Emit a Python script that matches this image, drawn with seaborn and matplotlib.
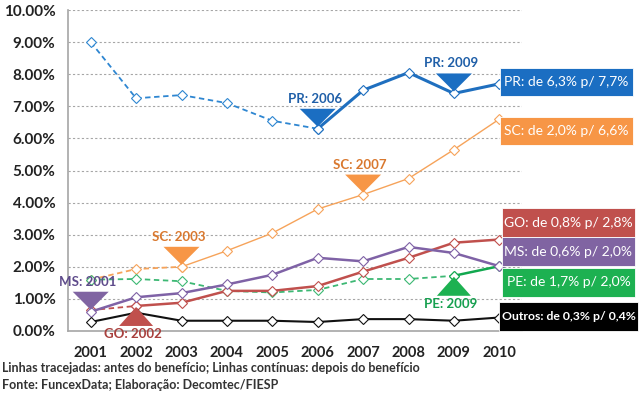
import numpy as np
import pandas as pd
import matplotlib.pyplot as plt
import matplotlib.transforms as mtransforms
from matplotlib.patches import Polygon, Rectangle
from matplotlib.ticker import FuncFormatter
import seaborn as sns

# dados (% de participação)
anos = [2001, 2002, 2003, 2004, 2005, 2006, 2007, 2008, 2009, 2010]
pr = [9.0, 7.25, 7.35, 7.1, 6.55, 6.3, 7.5, 8.05, 7.4, 7.7]
sc = [1.6, 1.93, 2.0, 2.5, 3.05, 3.8, 4.25, 4.75, 5.65, 6.6]
go = [0.65, 0.78, 0.88, 1.25, 1.25, 1.4, 1.85, 2.28, 2.75, 2.85]
ms = [0.6, 1.05, 1.18, 1.45, 1.75, 2.28, 2.17, 2.62, 2.43, 2.02]
pe = [1.6, 1.62, 1.55, 1.25, 1.2, 1.28, 1.62, 1.62, 1.72, 2.02]
outros = [0.28, 0.57, 0.32, 0.32, 0.32, 0.28, 0.37, 0.37, 0.32, 0.42]

# ano de início do benefício por estado
inicio = {"PR": 2006, "SC": 2003, "GO": 2002, "MS": 2001, "PE": 2009, "Outros": 2001}

rotulos = {
    "PR": "PR: de 6,3% p/ 7,7%",
    "SC": "SC: de 2,0% p/ 6,6%",
    "GO": "GO: de 0,8% p/ 2,8%",
    "MS": "MS: de 0,6% p/ 2,0%",
    "PE": "PE: de 1,7% p/ 2,0%",
    "Outros": "Outros: de 0,3% p/ 0,4%",
}

# marcações (estado, ano, texto, seta para baixo?)
marcas = [
    ("PR", 2006, "PR: 2006", True),
    ("PR", 2009, "PR: 2009", True),
    ("SC", 2003, "SC: 2003", True),
    ("SC", 2007, "SC: 2007", True),
    ("MS", 2001, "MS: 2001", True),
    ("GO", 2002, "GO: 2002", False),
    ("PE", 2009, "PE: 2009", False),
]

series = {"PR": pr, "SC": sc, "GO": go, "MS": ms, "PE": pe, "Outros": outros}

cores = {"PR": "#1F6FBF", "SC": "#F6A35A", "GO": "#C0504D",
         "MS": "#7F62A6", "PE": "#12A84F", "Outros": "#111111"}
cores_tracejado = {"PR": "#2E86D1", "SC": "#F6A35A", "GO": "#C0504D",
                   "MS": "#7F62A6", "PE": "#3DB874", "Outros": "#111111"}
cores_caixa = {"PR": "#1B6EC2", "SC": "#F79646", "GO": "#C0504D",
               "MS": "#8064A2", "PE": "#1DB151", "Outros": "#000000"}
cores_texto = {"PR": "#1F5FA8", "SC": "#D9782E", "GO": "#A8403D",
               "MS": "#5E4B8B", "PE": "#17A050"}
larguras = {"PR": 2.2, "SC": 1.0, "GO": 1.8, "MS": 1.8, "PE": 1.8, "Outros": 1.5}

# caixas à direita (px: x0, y_topo, x1, y_base)
caixas = {
    "PR": (500, 68, 633, 96),
    "SC": (500, 117, 633, 145),
    "GO": (502, 208, 635, 237),
    "MS": (502, 237, 635, 266),
    "PE": (502, 268, 635, 297),
    "Outros": (499, 302, 638, 331),
}

W, H = 640, 399

sns.set_style("white")
plt.rcParams["font.family"] = ["Lato", "DejaVu Sans"]

fig = plt.figure(figsize=(W / 100, H / 100), dpi=100)
ax = fig.add_axes([68 / W, (H - 331) / H, (522 - 68) / W, (331 - 10) / H])

ordem = ["PR", "SC", "PE", "GO", "MS", "Outros"]
for nome in ordem:
    df = pd.DataFrame({"ano": anos, "valor": series[nome]})
    antes = df[df["ano"] <= inicio[nome]]
    depois = df[df["ano"] >= inicio[nome]]
    mk = dict(marker="D", markersize=5, markerfacecolor="white",
              markeredgewidth=0.8)
    if len(antes) > 1:
        sns.lineplot(data=antes, x="ano", y="valor", ax=ax, errorbar=None,
                     color=cores_tracejado[nome], linewidth=1.3,
                     linestyle=(0, (3, 2)), markeredgecolor=cores_tracejado[nome],
                     **mk)
    sns.lineplot(data=depois, x="ano", y="valor", ax=ax, errorbar=None,
                 color=cores[nome], linewidth=larguras[nome],
                 markeredgecolor=cores[nome], **mk)

# marcações com triângulos
for nome, ano, texto, baixo in marcas:
    y = series[nome][anos.index(ano)]
    trans = mtransforms.Affine2D() + mtransforms.ScaledTranslation(ano, y, ax.transData)
    if baixo:
        verts = [(-18, 20), (18, 20), (0, 2)]
        dy = 30
    else:
        verts = [(-17, -20), (17, -20), (0, -1)]
        dy = -28
    ax.add_patch(Polygon(verts, closed=True, transform=trans,
                         facecolor=cores_caixa[nome], edgecolor="none",
                         clip_on=False, zorder=5))
    ax.annotate(texto, xy=(ano, y), xytext=(-3, dy), textcoords="offset pixels",
                ha="center", va="center", fontsize=9.5, fontweight="bold",
                color=cores_texto[nome], zorder=6, annotation_clip=False)

# eixos
ax.set_xlim(2000.5, 2010.5)
ax.set_ylim(0, 10)
ax.set_xticks(anos)
ax.set_xticks(np.arange(2000.5, 2011, 1), minor=True)
ax.set_yticks(np.arange(0, 11, 1))
ax.yaxis.set_major_formatter(FuncFormatter(lambda v, p: f"{v:.2f}%"))
ax.set_xlabel("")
ax.set_ylabel("")
ax.tick_params(axis="x", which="major", length=0, pad=11, labelsize=10.5)
ax.tick_params(axis="x", which="minor", length=5, color="#A6A6A6", width=1)
ax.tick_params(axis="y", length=0, pad=9, labelsize=11)
for lbl in ax.get_xticklabels() + ax.get_yticklabels():
    lbl.set_fontweight("bold")
    lbl.set_color("#222222")
ax.yaxis.grid(True, linestyle=(0, (2, 2)), color="#A6A6A6", linewidth=0.8)
ax.set_axisbelow(True)
for lado in ["top", "right"]:
    ax.spines[lado].set_visible(False)
for lado in ["left", "bottom"]:
    ax.spines[lado].set_color("#A6A6A6")
    ax.spines[lado].set_linewidth(1.2)

# caixas com variação
for nome, (x0, y0, x1, y1) in caixas.items():
    fig.add_artist(Rectangle((x0 / W, 1 - y1 / H), (x1 - x0) / W, (y1 - y0) / H,
                             transform=fig.transFigure, facecolor=cores_caixa[nome],
                             edgecolor="white", linewidth=0.6, zorder=10))
    fs = 8.8 if nome == "Outros" else 10
    fw = "bold" if nome == "Outros" else "normal"
    fig.text((x0 + x1) / 2 / W, 1 - (y0 + y1) / 2 / H, rotulos[nome],
             ha="center", va="center", color="white", fontsize=fs,
             fontweight=fw, zorder=11)

# notas
fig.text(2 / W, 1 - 368 / H, "Linhas tracejadas: antes do benefício; Linhas contínuas: depois do benefício",
         ha="left", va="center", fontsize=9, fontweight="bold", color="#333333")
fig.text(2 / W, 1 - 385 / H, "Fonte: FuncexData; Elaboração: Decomtec/FIESP",
         ha="left", va="center", fontsize=9, fontweight="bold", color="#333333")

fig.savefig("out.png", dpi=100)
